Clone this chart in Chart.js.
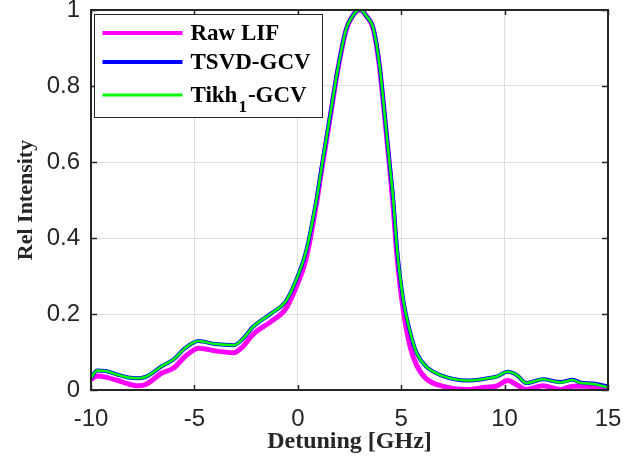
<!DOCTYPE html>
<html>
<head>
<meta charset="utf-8">
<script src="https://cdn.jsdelivr.net/npm/chart.js@4.4.1/dist/chart.umd.min.js"></script>
<style>
  html, body { margin: 0; padding: 0; background: #ffffff; }
  #wrap { width: 632px; height: 456px; position: relative; }
</style>
</head>
<body>
<div id="wrap"><canvas id="c" width="632" height="456"></canvas></div>
<script>
// ---- data ----
const detuning = [-10, -9.7, -9.3, -8.7, -8.2, -7.7, -7.3, -6.6, -6.0, -5.45, -4.8, -4.0, -3.1, -2.7, -2.15, -1.3, -0.6, -0.15, 0.4, 0.9, 1.15, 1.55, 1.95, 2.35, 2.65, 2.82, 3.0, 3.15, 3.3, 3.65, 3.95, 4.2, 4.45, 4.6, 4.8, 5.1, 5.45, 5.75, 6.2, 7.0, 8.2, 9.1, 9.6, 10.15, 10.6, 11.05, 11.85, 12.7, 13.3, 13.65, 14.3, 15];
const rawLIF = [0.028, 0.037, 0.034, 0.025, 0.016, 0.011, 0.016, 0.044, 0.058, 0.088, 0.110, 0.103, 0.098, 0.112, 0.147, 0.180, 0.212, 0.262, 0.345, 0.490, 0.578, 0.712, 0.847, 0.950, 0.984, 0.996, 1.000, 0.996, 0.985, 0.950, 0.850, 0.720, 0.580, 0.490, 0.350, 0.210, 0.110, 0.065, 0.030, 0.010, 0.001, 0.007, 0.010, 0.025, 0.013, 0.001, 0.011, 0.001, 0.010, 0.010, 0.009, 0.005];
const tsvdGCV = [0.032, 0.051, 0.050, 0.040, 0.033, 0.031, 0.036, 0.062, 0.081, 0.110, 0.129, 0.121, 0.118, 0.132, 0.167, 0.201, 0.232, 0.280, 0.365, 0.500, 0.585, 0.718, 0.850, 0.952, 0.984, 0.996, 1.000, 0.996, 0.985, 0.952, 0.855, 0.725, 0.590, 0.510, 0.370, 0.237, 0.149, 0.097, 0.062, 0.037, 0.025, 0.030, 0.035, 0.048, 0.039, 0.018, 0.028, 0.021, 0.027, 0.020, 0.017, 0.009];
const tikhGCV = [0.032, 0.051, 0.050, 0.040, 0.033, 0.031, 0.036, 0.062, 0.081, 0.110, 0.129, 0.121, 0.118, 0.132, 0.167, 0.201, 0.232, 0.280, 0.365, 0.500, 0.585, 0.718, 0.850, 0.952, 0.984, 0.996, 1.000, 0.996, 0.985, 0.952, 0.855, 0.725, 0.590, 0.510, 0.370, 0.237, 0.149, 0.097, 0.062, 0.037, 0.025, 0.030, 0.035, 0.048, 0.039, 0.018, 0.028, 0.020, 0.026, 0.019, 0.016, 0.007];
const xTicks = [-10, -5, 0, 5, 10, 15];
const yTicks = [0, 0.2, 0.4, 0.6, 0.8, 1];
const seriesNames = ['Raw LIF', 'TSVD-GCV', 'Tikh_1-GCV'];
const xTitle = 'Detuning [GHz]';
const yTitle = 'Rel Intensity';

const toPts = (ys) => ys.map((y, i) => ({ x: detuning[i], y: y }));
const AXIS = '#262626';
const SERIF = '"Liberation Serif", "Times New Roman", serif';
const SANS = '"Liberation Sans", Arial, sans-serif';

const framePlugin = {
  id: 'frame',
  afterDatasetsDraw(chart) {
    const { ctx, chartArea: a, scales } = chart;
    ctx.save();
    ctx.strokeStyle = AXIS;
    ctx.lineWidth = 1.5;
    ctx.beginPath();
    xTicks.forEach(v => {
      const px = Math.round(scales.x.getPixelForValue(v)) + 0.5;
      ctx.moveTo(px, a.bottom); ctx.lineTo(px, a.bottom - 5);
      ctx.moveTo(px, a.top); ctx.lineTo(px, a.top + 5);
    });
    yTicks.forEach(v => {
      const py = Math.round(scales.y.getPixelForValue(v)) + 0.5;
      ctx.moveTo(a.left, py); ctx.lineTo(a.left + 6, py);
      ctx.moveTo(a.right, py); ctx.lineTo(a.right - 6, py);
    });
    ctx.stroke();
    ctx.lineWidth = 2;
    ctx.strokeRect(a.left, a.top, a.right - a.left, a.bottom - a.top);
    ctx.restore();
  },
  afterDraw(chart) {
    const { ctx, chartArea: a } = chart;
    const ds = chart.data.datasets;
    const bx = a.left + 3.5, by = a.top + 4.5, bw = 228, bh = 103;
    ctx.save();
    ctx.fillStyle = '#ffffff';
    ctx.fillRect(bx, by, bw, bh);
    ctx.strokeStyle = AXIS;
    ctx.lineWidth = 1;
    ctx.strokeRect(bx, by, bw, bh);
    const rows = [a.top + 23, a.top + 52, a.top + 85];
    ds.forEach((d, i) => {
      const y = rows[i];
      ctx.strokeStyle = d.borderColor;
      ctx.lineWidth = i === 2 ? 3 : 4;
      ctx.beginPath();
      ctx.moveTo(bx + 8, y); ctx.lineTo(bx + 88, y);
      ctx.stroke();
      ctx.fillStyle = '#000000';
      ctx.textBaseline = 'alphabetic';
      ctx.textAlign = 'left';
      ctx.font = 'bold 23px ' + SERIF;
      const name = d.label;
      const tx = bx + 96, ty = y + 7;
      if (name.indexOf('_') >= 0) {
        const parts = name.split('_');
        const base = parts[0];
        const sub = parts[1].charAt(0);
        const rest = parts[1].slice(1);
        ctx.fillText(base, tx, ty);
        let x2 = tx + ctx.measureText(base).width;
        ctx.font = 'bold 17px ' + SERIF;
        ctx.fillText(sub, x2 + 1, ty + 10);
        x2 += ctx.measureText(sub).width + 2;
        ctx.font = 'bold 23px ' + SERIF;
        ctx.fillText(rest, x2, ty);
      } else {
        ctx.fillText(name, tx, ty);
      }
    });
    ctx.restore();
  }
};

new Chart(document.getElementById('c'), {
  type: 'line',
  data: {
    datasets: [
      { label: seriesNames[0], data: toPts(rawLIF), borderColor: '#ff00ff', borderWidth: 5, order: 3 },
      { label: seriesNames[1], data: toPts(tsvdGCV), borderColor: '#0000ff', borderWidth: 4, order: 2 },
      { label: seriesNames[2], data: toPts(tikhGCV), borderColor: '#00ff00', borderWidth: 2.5, order: 1 }
    ]
  },
  options: {
    responsive: false,
    animation: false,
    devicePixelRatio: 1,
    layout: { padding: { left: 0, right: 24, top: 0, bottom: 0 } },
    elements: {
      point: { radius: 0 },
      line: { cubicInterpolationMode: 'monotone', fill: false, borderCapStyle: 'round', borderJoinStyle: 'round' }
    },
    plugins: { legend: { display: false }, tooltip: { enabled: false } },
    scales: {
      x: {
        type: 'linear', min: -10, max: 15,
        afterBuildTicks(s) { s.ticks = xTicks.map(v => ({ value: v })); },
        afterFit(s) { s.height = 66; s.paddingLeft = 0; s.paddingRight = 0; },
        grid: { color: '#dedede', lineWidth: 1, drawTicks: false },
        border: { display: false },
        ticks: { padding: 15, color: AXIS, font: { family: SANS, size: 24 }, maxRotation: 0, callback: v => String(v) },
        title: { display: true, text: xTitle, color: '#262626', padding: { top: 0, bottom: 0 }, font: { family: SERIF, size: 24, weight: 'bold' } }
      },
      y: {
        type: 'linear', min: 0, max: 1,
        afterBuildTicks(s) { s.ticks = yTicks.map(v => ({ value: v })); },
        afterFit(s) { s.width = 91; s.paddingTop = 10; s.paddingBottom = 0; },
        grid: { color: '#dedede', lineWidth: 1, drawTicks: false },
        border: { display: false },
        ticks: { padding: 11, color: AXIS, font: { family: SANS, size: 24 }, callback: v => String(v) },
        title: { display: true, text: yTitle, color: '#262626', padding: { top: 13, bottom: 0 }, font: { family: SERIF, size: 22, weight: 'bold' } }
      }
    }
  },
  plugins: [framePlugin]
});
</script>
</body>
</html>
